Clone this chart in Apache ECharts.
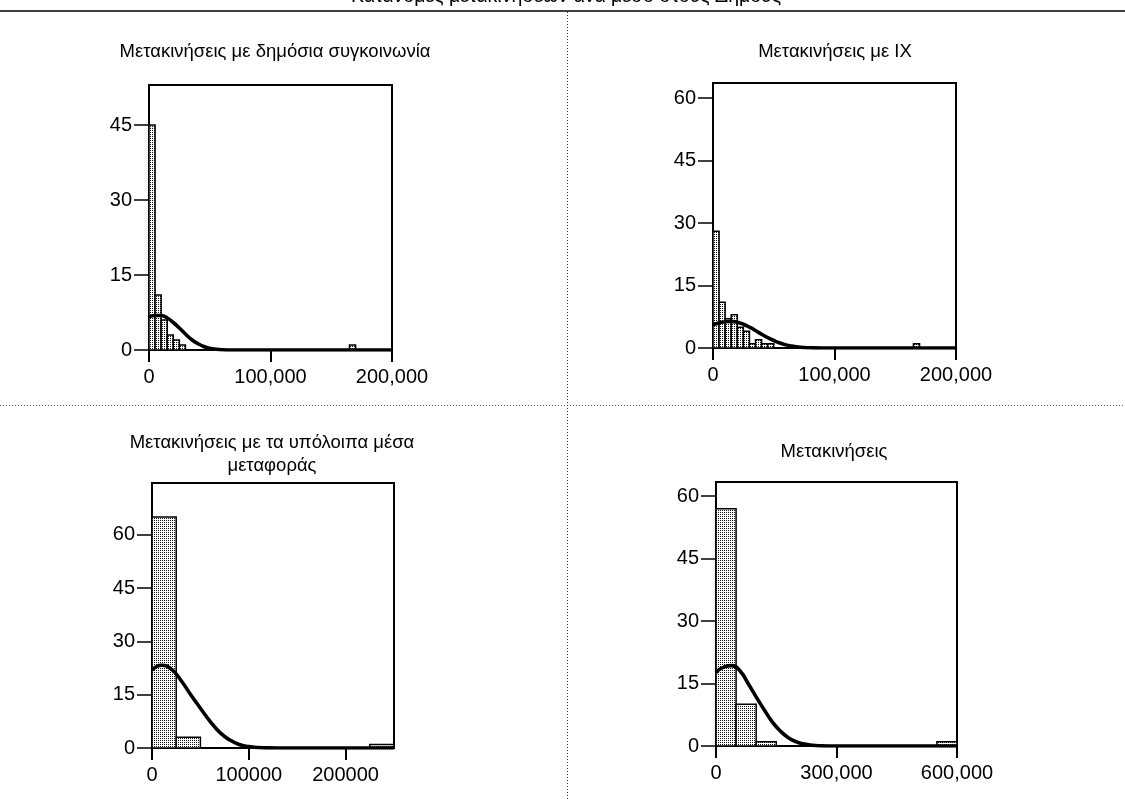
<!DOCTYPE html>
<html>
<head>
<meta charset="utf-8">
<script src="https://cdn.jsdelivr.net/npm/echarts@6/dist/echarts.min.js"></script>
<style>
  html, body { margin: 0; padding: 0; background: #fff; }
  #chart { width: 1125px; height: 799px; }
</style>
</head>
<body>
<div id="chart"></div>
<script>
// histogram bins (start of bin) and counts
const pubBinStart = [0, 5000, 10000, 15000, 20000, 25000, 165000];
const pubCounts = [45, 11, 6, 3, 2, 1, 1];
const carBinStart = [0, 5000, 10000, 15000, 20000, 25000, 30000, 35000, 40000, 45000, 165000];
const carCounts = [28, 11, 7, 8, 5, 4, 1, 2, 1, 1, 1];
const otherBinStart = [0, 25000, 225000];
const otherCounts = [65, 3, 1];
const allBinStart = [0, 50000, 100000, 550000];
const allCounts = [57, 10, 1, 1];

// normal curves, points
const pubCurveX = [0, 5000, 10000, 15000, 20000, 25000, 30000, 35000, 40000, 45000, 50000, 55000, 60000, 70000, 200000];
const pubCurveY = [6.6, 6.9, 6.9, 6.4, 5.5, 4.4, 3.2, 2.1, 1.3, 0.7, 0.35, 0.15, 0.05, 0, 0];
const carCurveX = [0, 5000, 10000, 15000, 20000, 25000, 30000, 35000, 40000, 45000, 50000, 55000, 60000, 65000, 70000, 75000, 80000, 90000, 200000];
const carCurveY = [5.6, 6.0, 6.3, 6.4, 6.2, 5.7, 5.0, 4.2, 3.3, 2.5, 1.8, 1.2, 0.75, 0.45, 0.25, 0.12, 0.05, 0, 0];
const otherCurveX = [0, 10000, 20000, 30000, 40000, 50000, 60000, 70000, 80000, 90000, 100000, 110000, 120000, 130000, 250000];
const otherCurveY = [22, 23.3, 22.2, 19, 15, 11.2, 7.5, 4.4, 2.3, 1, 0.4, 0.12, 0.03, 0, 0];
const allCurveX = [0, 20000, 40000, 60000, 80000, 100000, 120000, 140000, 160000, 180000, 200000, 220000, 240000, 260000, 280000, 600000];
const allCurveY = [17.6, 19, 19.3, 18, 15, 11.8, 8.7, 5.8, 3.6, 2, 1, 0.45, 0.18, 0.05, 0, 0];

const yTicks = [0, 15, 30, 45];
const yTicks60 = [0, 15, 30, 45, 60];

const titles = [
  'Μετακινήσεις με δημόσια συγκοινωνία',
  'Μετακινήσεις με ΙΧ',
  'Μετακινήσεις με τα υπόλοιπα μέσα',
  'μεταφοράς',
  'Μετακινήσεις'
];
const mainTitle = 'Κατανομές μετακινήσεων ανά μέσο στους Δήμους';

const FONT = '"Liberation Sans", Arial, sans-serif';

// stipple fill
const tile = document.createElement('canvas');
tile.width = 4; tile.height = 4;
const tc = tile.getContext('2d');
tc.fillStyle = '#fff'; tc.fillRect(0, 0, 4, 4);
tc.fillStyle = '#111';
tc.fillRect(0, 0, 1, 1); tc.fillRect(2, 2, 1, 1); tc.fillRect(2, 0, 1, 1); tc.fillRect(0, 2, 1, 1);
const stipple = { image: tile, repeat: 'repeat' };

const panels = [
  { grid: { left: 149, top: 85, width: 243, height: 265 }, xMax: 200000, xInt: 100000, yMax: 53, ticks: yTicks,
    starts: pubBinStart, counts: pubCounts, bw: 5000, cx: pubCurveX, cy: pubCurveY, commas: true },
  { grid: { left: 713, top: 83, width: 243, height: 265 }, xMax: 200000, xInt: 100000, yMax: 63.6, ticks: yTicks60,
    starts: carBinStart, counts: carCounts, bw: 5000, cx: carCurveX, cy: carCurveY, commas: true },
  { grid: { left: 152, top: 483, width: 242, height: 265 }, xMax: 250000, xInt: 100000, yMax: 74.6, ticks: yTicks60,
    starts: otherBinStart, counts: otherCounts, bw: 25000, cx: otherCurveX, cy: otherCurveY, commas: false },
  { grid: { left: 716, top: 482, width: 241, height: 264 }, xMax: 600000, xInt: 300000, yMax: 63.4, ticks: yTicks60,
    starts: allBinStart, counts: allCounts, bw: 50000, cx: allCurveX, cy: allCurveY, commas: true }
];

const chart = echarts.init(document.getElementById('chart'));

const grid = [], xAxis = [], yAxis = [], series = [];
panels.forEach(function (p, i) {
  grid.push(Object.assign({ show: true, borderColor: '#000', borderWidth: 2, containLabel: false }, p.grid));
  xAxis.push({
    type: 'value', gridIndex: i, min: 0, max: p.xMax, interval: p.xInt,
    axisLine: { show: true, onZero: false, lineStyle: { color: '#000', width: 2 } },
    axisTick: { show: true, length: 12, lineStyle: { color: '#000', width: 2 } },
    axisLabel: {
      color: '#000', fontSize: 20, margin: 17, fontFamily: FONT,
      formatter: p.commas ? function (v) { return v.toLocaleString('en-US'); } : function (v) { return String(v); }
    },
    splitLine: { show: false }
  });
  yAxis.push({
    type: 'value', gridIndex: i, min: 0, max: p.yMax,
    axisLine: { show: true, lineStyle: { color: '#000', width: 2 } },
    axisTick: { show: true, length: 15, customValues: p.ticks, lineStyle: { color: '#000', width: 1.5 } },
    axisLabel: { color: '#000', fontSize: 20, margin: 17, fontFamily: FONT, customValues: p.ticks },
    splitLine: { show: false }
  });
  series.push({
    type: 'custom', xAxisIndex: i, yAxisIndex: i,
    data: p.starts.map(function (s, j) { return [s, s + p.bw, p.counts[j]]; }),
    encode: { x: [0, 1], y: 2 },
    renderItem: function (params, api) {
      const a = api.coord([api.value(0), 0]);
      const b = api.coord([api.value(1), api.value(2)]);
      return {
        type: 'rect',
        shape: { x: a[0], y: b[1], width: b[0] - a[0], height: a[1] - b[1] },
        style: { fill: stipple, stroke: '#000', lineWidth: 1.5 }
      };
    },
    z: 2
  });
  series.push({
    type: 'line', xAxisIndex: i, yAxisIndex: i,
    data: p.cx.map(function (x, j) { return [x, p.cy[j]]; }),
    smooth: 0.5, symbol: 'none', silent: true,
    lineStyle: { color: '#000', width: 3.6 },
    z: 5
  });
});

function label(text, x, y, size) {
  return {
    type: 'text', x: x, y: y, silent: true,
    style: { text: text, fill: '#000', fontSize: size || 18.5, fontFamily: FONT, align: 'center', verticalAlign: 'middle', textAlign: 'center', textVerticalAlign: 'middle' }
  };
}

chart.setOption({
  animation: false,
  backgroundColor: '#fff',
  grid: grid,
  xAxis: xAxis,
  yAxis: yAxis,
  series: series,
  graphic: [
    label(mainTitle, 566, -3, 19.5),
    { type: 'line', silent: true, shape: { x1: 0, y1: 11, x2: 1125, y2: 11 }, style: { stroke: '#000', lineWidth: 1.5 } },
    { type: 'line', silent: true, shape: { x1: 567.5, y1: 12, x2: 567.5, y2: 799 }, style: { stroke: '#333', lineWidth: 1, lineDash: [1, 2] } },
    { type: 'line', silent: true, shape: { x1: 0, y1: 405.5, x2: 1125, y2: 405.5 }, style: { stroke: '#666', lineWidth: 1, lineDash: [1, 2] } },
    label(titles[0], 275, 52),
    label(titles[1], 835, 52),
    label(titles[2], 272, 443),
    label(titles[3], 272, 466),
    label(titles[4], 834, 452)
  ]
});
</script>
</body>
</html>
